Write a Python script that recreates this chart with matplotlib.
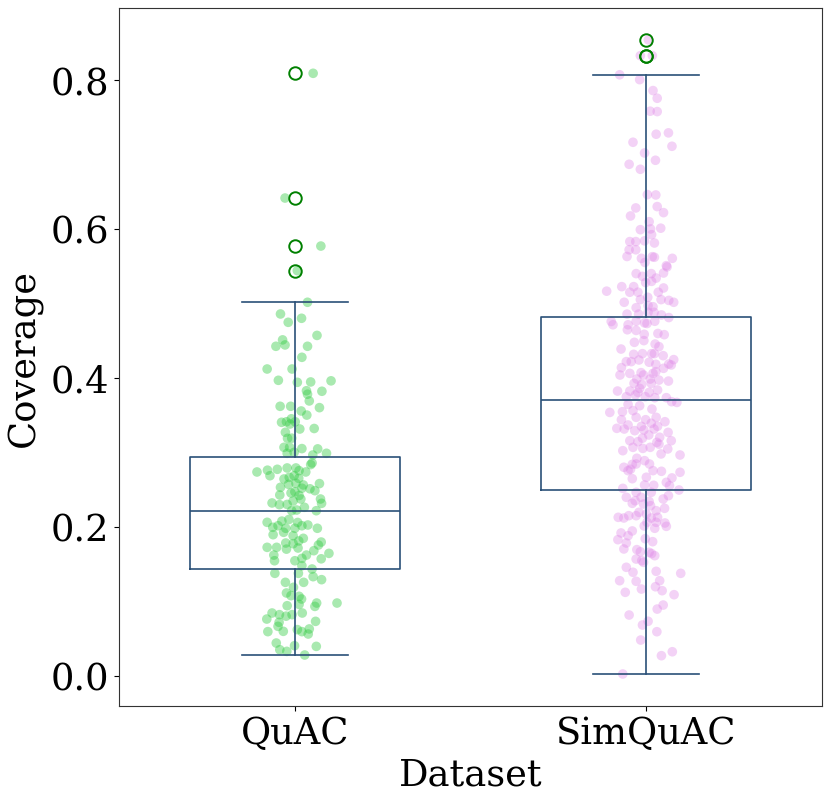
import matplotlib
matplotlib.use("Agg")
import matplotlib.pyplot as plt

plt.rcParams['font.family'] = ['DejaVu Serif']

categories = ["QuAC", "SimQuAC"]

# Box statistics
q1 = [0.1433, 0.2498]
median = [0.2208, 0.3703]
q3 = [0.2941, 0.4821]
whislo = [0.0278, 0.0023]
whishi = [0.5015, 0.8067]
outliers = [[0.809, 0.6415, 0.577, 0.544], [0.8537, 0.8327, 0.8327]]

# QuAC strip points: coverage values and horizontal jitter
quac_y = [0.809, 0.6415, 0.577, 0.544, 0.5015, 0.4858, 0.480, 0.4746, 0.457, 0.451, 0.4424, 0.4442, 0.4424,
          0.4276, 0.4119, 0.4119, 0.3967, 0.394, 0.3945, 0.396, 0.3827, 0.378, 0.382, 0.369, 0.3618, 0.3618,
          0.360, 0.3555, 0.350, 0.3403, 0.341, 0.345, 0.341, 0.338, 0.3313, 0.332, 0.3269, 0.3188, 0.319,
          0.3067, 0.3067, 0.305, 0.3046, 0.2987, 0.2987, 0.2964, 0.300, 0.2857, 0.2835, 0.2736, 0.276,
          0.2686, 0.2772, 0.279, 0.279, 0.2754, 0.2736, 0.2642, 0.2664, 0.2686, 0.265, 0.257, 0.2562, 0.258,
          0.253, 0.2584, 0.2518, 0.251, 0.2485, 0.2427, 0.2454, 0.247, 0.242, 0.2373, 0.232, 0.2297, 0.230,
          0.2346, 0.2373, 0.2315, 0.2262, 0.2216, 0.2216, 0.2225, 0.206, 0.2076, 0.2098, 0.2058, 0.2024,
          0.1993, 0.2014, 0.1980, 0.198, 0.2014, 0.198, 0.1926, 0.1894, 0.188, 0.1845, 0.1810, 0.1782,
          0.1773, 0.1795, 0.1755, 0.1724, 0.1724, 0.170, 0.1715, 0.1679, 0.162, 0.1643, 0.162, 0.1576,
          0.157, 0.1544, 0.1544, 0.1477, 0.1433, 0.1375, 0.1375, 0.133, 0.129, 0.1254, 0.1254, 0.1187,
          0.1111, 0.1075, 0.1066, 0.1030, 0.0976, 0.0976, 0.0931, 0.094, 0.0958, 0.0842, 0.082, 0.080,
          0.082, 0.0842, 0.0761, 0.0717, 0.0730, 0.0663, 0.0596, 0.0619, 0.0592, 0.0628, 0.056, 0.0592,
          0.0439, 0.0403, 0.0394, 0.0349, 0.0327, 0.0278]
quac_jitter = [0.052, -0.028, 0.074, 0.007, 0.036, -0.041, 0.019, -0.019, 0.063, -0.035, -0.054, -0.028, 0.036,
               0.020, -0.079, -0.008, -0.047, 0.007, 0.045, 0.103, 0.033, 0.036, 0.077, 0.041, -0.042, -0.012,
               0.070, 0.018, 0.034, -0.038, -0.024, -0.010, 0.001, -0.014, 0.014, 0.055, -0.027, -0.021, -0.009,
               -0.031, -0.015, 0.020, 0.065, -0.022, 0.090, 0.051, -0.002, 0.049, 0.045, -0.108, -0.078,
               -0.071, -0.050, -0.022, 0.003, 0.012, 0.031, -0.031, -0.016, -0.002, 0.011, -0.018, 0.024, 0.070,
               -0.041, 0.003, 0.020, 0.043, 0.057, -0.043, -0.011, 0.000, 0.012, 0.073, -0.065, -0.044, -0.022,
               -0.005, 0.017, 0.076, 0.027, 0.061, -0.009, 0.005, -0.079, -0.037, -0.017, 0.008, 0.037,
               -0.063, -0.048, -0.026, 0.000, 0.020, 0.064, -0.032, -0.062, -0.005, 0.024, 0.011, -0.026,
               -0.005, 0.075, 0.067, -0.079, -0.052, -0.024, 0.009, 0.054, 0.033, 0.097, -0.060, 0.020,
               0.075, 0.000, -0.058, 0.020, 0.049, -0.057, 0.010, 0.052, 0.076, -0.027, 0.025, -0.004,
               -0.024, -0.011, 0.012, 0.019, 0.062, 0.120, 0.057, -0.022, 0.012, -0.065, -0.044, -0.025,
               -0.008, 0.021, -0.080, -0.045, 0.059, -0.048, -0.033, 0.007, 0.020, 0.041, 0.038, -0.077,
               -0.053, -0.001, 0.061, -0.043, -0.023, 0.028]

# SimQuAC strip points
sim_y = [0.854, 0.8327, 0.8327, 0.807, 0.8005, 0.7858, 0.7755, 0.7581, 0.7576, 0.7272, 0.729, 0.7164, 0.711,
         0.702, 0.6922, 0.6868, 0.6801, 0.6461, 0.6456, 0.6282, 0.630, 0.6174, 0.6219, 0.6097, 0.599, 0.600,
         0.601, 0.5923, 0.583, 0.583, 0.584, 0.5811, 0.572, 0.572, 0.563, 0.5605, 0.5627, 0.562, 0.5605,
         0.555, 0.5507, 0.549, 0.5408, 0.540, 0.540, 0.5363, 0.534, 0.528, 0.5296, 0.5164, 0.5225, 0.5225,
         0.515, 0.515, 0.5207, 0.515, 0.5082, 0.5051, 0.5051, 0.504, 0.5015, 0.5015, 0.4942, 0.497, 0.4955,
         0.4856, 0.4856, 0.488, 0.488, 0.4845, 0.481, 0.4757, 0.476, 0.4738, 0.476, 0.4713, 0.4713, 0.473,
         0.4646, 0.4637, 0.4585, 0.4596, 0.458,
         0.4477, 0.450, 0.4454, 0.4419, 0.4387, 0.4316, 0.4325, 0.4325, 0.4325, 0.4298, 0.4218, 0.4218,
         0.424, 0.421, 0.4182, 0.4186, 0.4245, 0.4173, 0.4137, 0.4128, 0.4038, 0.406, 0.407, 0.4038, 0.406,
         0.4083, 0.3984, 0.3984, 0.397, 0.3957, 0.3926, 0.3913, 0.3926, 0.3859, 0.3823, 0.3823, 0.3805,
         0.3805, 0.3837, 0.3747, 0.377, 0.3747, 0.3734, 0.3734, 0.3680, 0.367, 0.3644, 0.3626, 0.3536,
         0.3545, 0.3581, 0.356, 0.347, 0.347, 0.3438, 0.3438, 0.3411, 0.3367, 0.3349, 0.339, 0.335, 0.3322,
         0.3313, 0.3291, 0.330, 0.3313, 0.3268, 0.3233, 0.3202, 0.319, 0.3156, 0.3143, 0.3156, 0.3134,
         0.3067, 0.3053, 0.3067, 0.311, 0.3045, 0.3022, 0.2978, 0.2964, 0.2920, 0.2888, 0.2843, 0.2838,
         0.2843, 0.2799, 0.2754, 0.2772, 0.2754, 0.2745, 0.2732, 0.2665, 0.2646, 0.2656, 0.2597, 0.2552,
         0.2561, 0.2557, 0.2516, 0.2494, 0.2463, 0.2463, 0.2396, 0.2350, 0.2396, 0.234, 0.2373, 0.2418,
         0.2315, 0.2306, 0.2283, 0.2248, 0.2194, 0.2216, 0.2172, 0.2127, 0.2118, 0.2149, 0.2149, 0.2118,
         0.2127, 0.206, 0.206, 0.2051, 0.2006, 0.198, 0.2011, 0.1917, 0.1944, 0.1880, 0.1827, 0.1840,
         0.1800, 0.1782, 0.1702, 0.1693, 0.1665, 0.1657, 0.164, 0.1612, 0.1567, 0.1545, 0.1523, 0.1456,
         0.1389, 0.1402, 0.1375, 0.1268, 0.1276, 0.1276, 0.1195, 0.1164, 0.1142, 0.1120, 0.1088, 0.0949,
         0.0895, 0.0815, 0.0731, 0.0681, 0.0591, 0.0479, 0.0269, 0.0322, 0.0023]
sim_jitter = [0.007, -0.016, 0.018, -0.075, -0.018, 0.020, 0.032, 0.012, 0.032, 0.029, 0.064, -0.037, 0.074,
              -0.004, 0.027, -0.048, -0.016, 0.004, 0.028, -0.029, 0.032, -0.044, 0.050, 0.009, -0.016, 0.013,
              0.042, 0.016, -0.046, -0.029, -0.004, 0.024, -0.048, -0.029, -0.054, -0.013, 0.018, 0.024, 0.075,
              -0.003, 0.058, 0.060, 0.050, 0.015, -0.028, -0.010, 0.029, -0.001, 0.016, -0.112, -0.069, -0.035,
              -0.046, -0.023, 0.050, 0.035, 0.005, -0.016, 0.043, 0.065, 0.079, -0.062, -0.028, 0.006, 0.020,
              -0.054, -0.021, 0.006, 0.023, 0.044, 0.065, -0.099, -0.028, -0.004, 0.025, -0.094, -0.051, 0.003,
              -0.053, -0.028, -0.005, 0.034, 0.052,
              -0.033, -0.006, 0.026, 0.037, -0.071, -0.035, -0.010, 0.016, 0.024, 0.049, -0.056, -0.042,
              -0.020, 0.009, 0.028, 0.065, 0.079, 0.072, -0.070, 0.050, -0.074, -0.046, -0.014, -0.007, 0.020,
              0.028, -0.026, 0.012, 0.037, 0.064, -0.034, -0.012, 0.015, -0.018, -0.081, -0.046, -0.023,
              0.009, 0.033, -0.056, -0.030, -0.002, 0.025, 0.058, 0.073, 0.088, -0.051, -0.018, -0.103,
              -0.067, 0.017, -0.037, -0.028, 0.029, -0.070, -0.001, 0.054, -0.051, -0.013, 0.015, 0.033, -0.083,
              -0.062, -0.032, -0.006, 0.023, 0.063, 0.008, 0.039, -0.010, -0.046, -0.023, 0.072, 0.031,
              -0.037, -0.009, 0.012, 0.037, 0.062, -0.066, 0.043, 0.097, -0.026, -0.004, 0.010, -0.039,
              -0.028, -0.063, -0.051, -0.044, 0.020, 0.044, 0.097, 0.001, -0.039, 0.074, 0.058, 0.067,
              -0.004, 0.022, -0.066, 0.094, -0.028, 0.015, -0.056, -0.031, -0.014, 0.009, 0.049, 0.064,
              -0.039, -0.007, 0.013, 0.053, -0.020, 0.029, 0.001, -0.079, -0.063, -0.049, -0.028, 0.015,
              0.033, 0.003, 0.029, 0.054, 0.058, 0.025, -0.005, -0.071, -0.039, -0.051, -0.080, -0.002,
              0.019, -0.056, -0.063, -0.026, -0.016, 0.009, 0.016, 0.025, -0.028, -0.012, -0.007, -0.056,
              -0.037, 0.029, 0.099, -0.028, -0.075, 0.039, 0.027, -0.013, 0.046, -0.059, 0.080, 0.049,
              0.032, -0.048, 0.006, -0.010, 0.031, -0.015, 0.044, 0.075, -0.066]

point_colors = ["#33cc44", "#e08ae8"]
box_color = "#2a5078"

fig = plt.figure(figsize=(8.31, 8.03), dpi=100)
ax = fig.add_axes([0.1436, 0.1199, 0.845, 0.8689])

stats = []
for i, name in enumerate(categories):
    stats.append(dict(label=name, q1=q1[i], med=median[i], q3=q3[i],
                      whislo=whislo[i], whishi=whishi[i], fliers=outliers[i]))

ax.bxp(stats, positions=[0, 1], widths=0.6, showfliers=True, patch_artist=False,
       boxprops=dict(color=box_color, linewidth=1.2),
       medianprops=dict(color=box_color, linewidth=1.2),
       whiskerprops=dict(color=box_color, linewidth=1.2),
       capprops=dict(color=box_color, linewidth=1.2),
       flierprops=dict(marker='o', markerfacecolor='none', markeredgecolor='green',
                       markersize=9, markeredgewidth=1.4),
       zorder=3)

ax.scatter([0 + j for j in quac_jitter], quac_y, s=48, color=point_colors[0], alpha=0.42,
           edgecolors='none', zorder=2)
ax.scatter([1 + j for j in sim_jitter], sim_y, s=48, color=point_colors[1], alpha=0.38,
           edgecolors='none', zorder=2)

ax.set_xlim(-0.5, 1.5)
ax.set_ylim(-0.0403, 0.8967)
ax.set_xticks([0, 1])
ax.set_xticklabels(categories)
ax.set_yticks([0.0, 0.2, 0.4, 0.6, 0.8])
ax.set_yticklabels(["0.0", "0.2", "0.4", "0.6", "0.8"])
ax.tick_params(labelsize=26.5)
ax.set_xlabel("Dataset", fontsize=26.5, labelpad=4)
ax.set_ylabel("Coverage", fontsize=26.5, labelpad=6)
for s in ax.spines.values():
    s.set_color("#333333")

fig.savefig("out.png", dpi=100)
